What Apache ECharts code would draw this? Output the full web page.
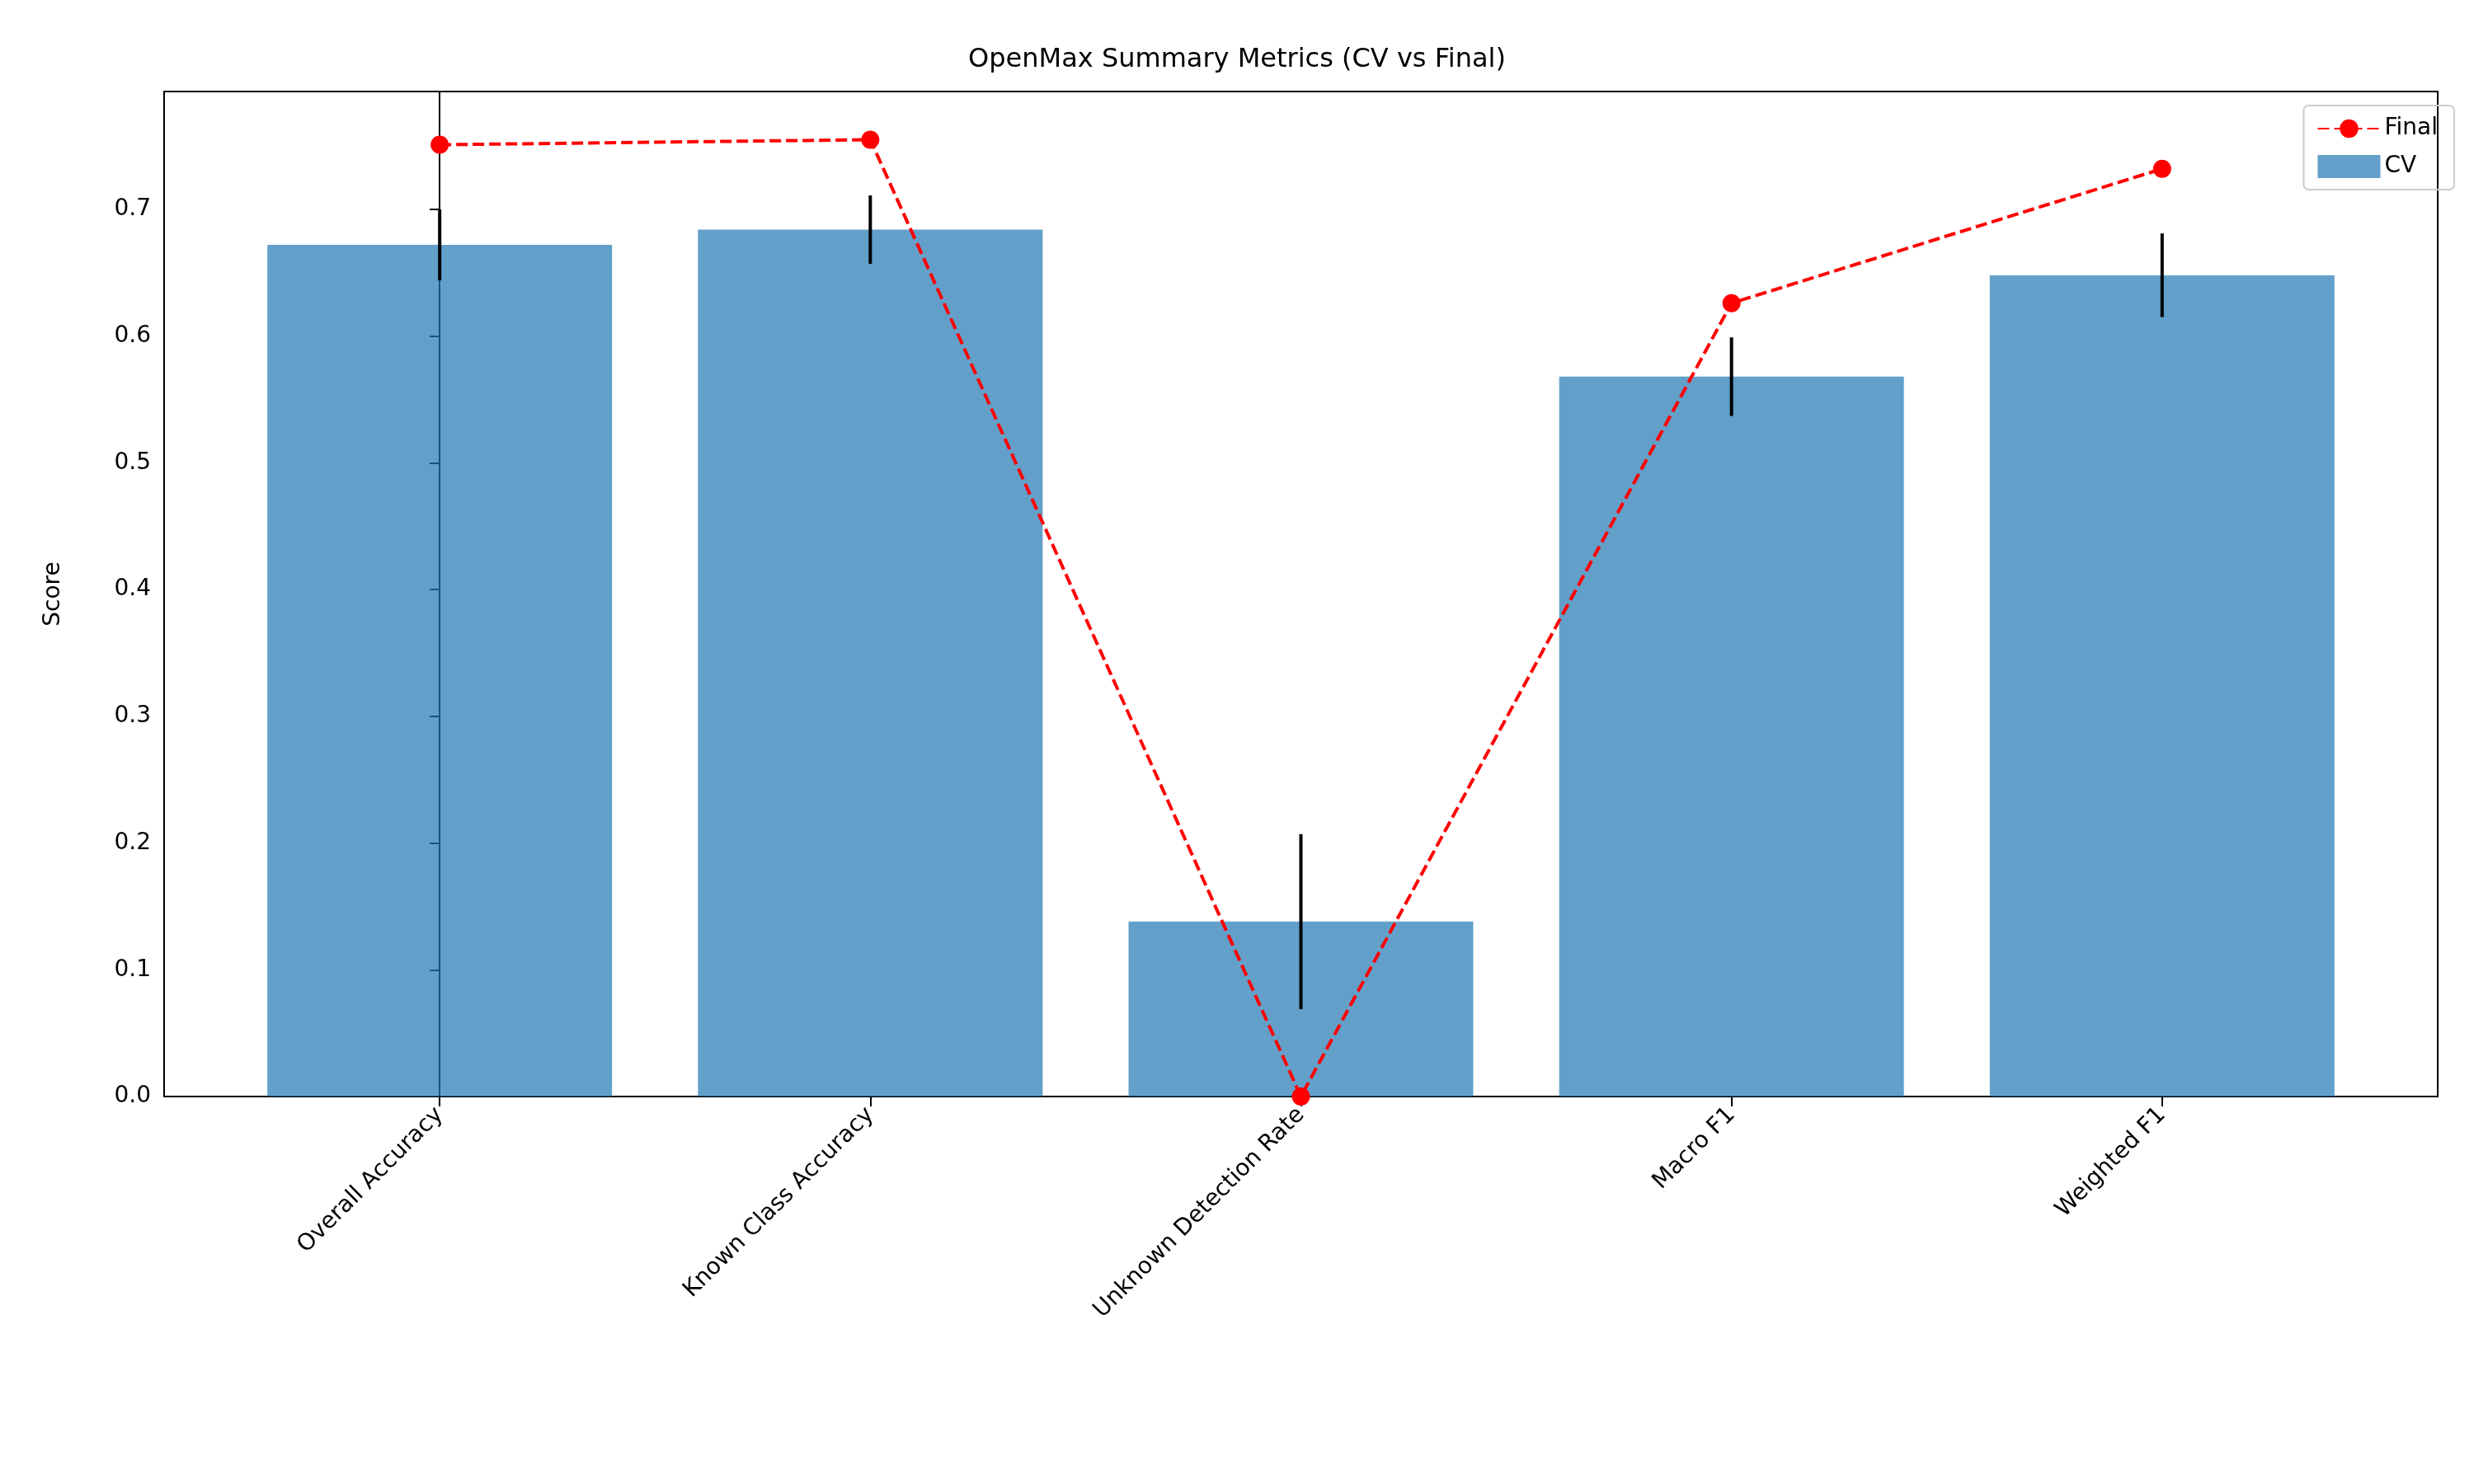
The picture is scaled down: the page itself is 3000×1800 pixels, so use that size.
<!DOCTYPE html>
<html>
<head>
<meta charset="utf-8">
<script src="https://cdn.jsdelivr.net/npm/echarts@6/dist/echarts.min.js"></script>
<style>html,body{margin:0;padding:0;background:#fff}#chart{width:3000px;height:1800px}</style>
</head>
<body>
<div id="chart"></div>
<script>
var categories = ['Overall Accuracy', 'Known Class Accuracy', 'Unknown Detection Rate', 'Macro F1', 'Weighted F1'];
var cvMean = [0.672, 0.684, 0.138, 0.568, 0.648];
var cvStd = [0.028, 0.027, 0.069, 0.031, 0.033];
var finalValues = [0.751, 0.755, 0.0, 0.626, 0.732];
var positions = [0, 1, 2, 3, 4];

var barData = positions.map(function (p, i) { return [p, cvMean[i]]; });
var lineData = positions.map(function (p, i) { return [p, finalValues[i]]; });
var errData = positions.map(function (p, i) {
    return [p, cvMean[i] - cvStd[i], cvMean[i] + cvStd[i]];
});

var myChart = echarts.init(document.getElementById('chart'));
var font = 'DejaVu Sans';
var option = {
    backgroundColor: '#fff',
    animation: false,
    title: {
        text: 'OpenMax Summary Metrics (CV vs Final)',
        left: 'center', top: 52,
        textStyle: { fontFamily: font, fontSize: 32, fontWeight: 'normal', color: '#000' }
    },
    legend: {
        right: 24, top: 128, orient: 'vertical',
        data: [{ name: 'Final' }, { name: 'CV', icon: 'rect' }],
        itemWidth: 76, itemHeight: 28, itemGap: 18,
        padding: [14, 20, 14, 16],
        borderColor: '#ccc', borderWidth: 2, borderRadius: 6,
        textStyle: { fontFamily: font, fontSize: 28, color: '#000' }
    },
    grid: { left: 199, right: 44, top: 111, bottom: 470, show: true, borderColor: '#000', borderWidth: 2 },
    xAxis: {
        type: 'value', min: -0.64, max: 4.64,
        splitLine: { show: false },
        axisLine: { lineStyle: { color: '#000', width: 2 } },
        axisTick: { show: true, customValues: positions, length: 12, lineStyle: { color: '#000', width: 2 } },
        axisLabel: { customValues: positions, rotate: 45, fontFamily: font, fontSize: 28, color: '#000', margin: 18,
            formatter: function (v) { return categories[Math.round(v)]; } }
    },
    yAxis: {
        type: 'value', min: 0, max: 0.793, interval: 0.1,
        name: 'Score', nameLocation: 'middle', nameGap: 120,
        nameTextStyle: { fontFamily: font, fontSize: 28, color: '#000' },
        splitLine: { show: false },
        axisLine: { show: true, lineStyle: { color: '#000', width: 2 } },
        axisTick: { show: true, length: 12, lineStyle: { color: '#000', width: 2 } },
        axisLabel: { fontFamily: font, fontSize: 28, color: '#000', margin: 16, showMaxLabel: false,
            formatter: function (v) { return v.toFixed(1); } }
    },
    series: [
        {
            name: 'CV', type: 'bar', data: barData, barWidth: 418,
            itemStyle: { color: 'rgba(31,119,180,0.7)' }, z: 1
        },
        {
            name: 'err', type: 'custom', data: errData, z: 3,
            renderItem: function (params, api) {
                var top = api.coord([api.value(0), api.value(2)]);
                var bot = api.coord([api.value(0), api.value(1)]);
                return { type: 'line', shape: { x1: top[0], y1: top[1], x2: bot[0], y2: bot[1] },
                    style: { stroke: '#000', lineWidth: 4 } };
            }
        },
        {
            name: 'Final', type: 'line', data: lineData, z: 5,
            symbol: 'circle', symbolSize: 22,
            lineStyle: { color: '#ff0000', width: 4, type: [14, 6] },
            itemStyle: { color: '#ff0000' }
        }
    ]
};
myChart.setOption(option);
</script>
</body>
</html>
